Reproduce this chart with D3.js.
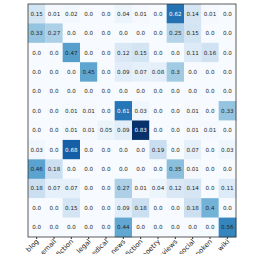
<!DOCTYPE html>
<html>
<head>
<meta charset="utf-8">
<script src="https://cdn.jsdelivr.net/npm/d3@7"></script>
<style>
  body { margin: 0; background: #fff; }
  svg { display: block; }
</style>
</head>
<body>
<svg id="chart" width="254" height="254"></svg>
<script>
// categories (rows = true, cols = predicted)
const labels = ["blog", "email", "fiction", "legal", "medical", "news",
  "nonfiction", "poetry", "reviews", "social", "spoken", "wiki"];

const blog       = [0.15, 0.01, 0.02, 0.0, 0.0, 0.04, 0.01, 0.0, 0.62, 0.14, 0.01, 0.0];
const email      = [0.33, 0.27, 0.0, 0.0, 0.0, 0.0, 0.0, 0.0, 0.25, 0.15, 0.0, 0.0];
const fiction    = [0.0, 0.0, 0.47, 0.0, 0.0, 0.12, 0.15, 0.0, 0.0, 0.11, 0.16, 0.0];
const legal      = [0.0, 0.0, 0.0, 0.45, 0.0, 0.09, 0.07, 0.08, 0.3, 0.0, 0.0, 0.0];
const medical    = [0.0, 0.0, 0.0, 0.0, 0.0, 0.0, 0.0, 0.0, 0.0, 0.0, 0.0, 0.0];
const news       = [0.0, 0.0, 0.01, 0.01, 0.0, 0.61, 0.03, 0.0, 0.0, 0.01, 0.0, 0.33];
const nonfiction = [0.0, 0.0, 0.01, 0.01, 0.05, 0.09, 0.83, 0.0, 0.0, 0.01, 0.01, 0.0];
const poetry     = [0.03, 0.0, 0.68, 0.0, 0.0, 0.0, 0.0, 0.19, 0.0, 0.07, 0.0, 0.03];
const reviews    = [0.46, 0.18, 0.0, 0.0, 0.0, 0.0, 0.0, 0.0, 0.35, 0.01, 0.0, 0.0];
const social     = [0.18, 0.07, 0.07, 0.0, 0.0, 0.27, 0.01, 0.04, 0.12, 0.14, 0.0, 0.11];
const spoken     = [0.0, 0.0, 0.15, 0.0, 0.0, 0.09, 0.18, 0.0, 0.0, 0.18, 0.4, 0.0];
const wiki       = [0.0, 0.0, 0.0, 0.0, 0.0, 0.44, 0.0, 0.0, 0.0, 0.0, 0.0, 0.56];

const matrix = [blog, email, fiction, legal, medical, news,
  nonfiction, poetry, reviews, social, spoken, wiki];

const svg = d3.select("#chart");
const margin = { top: 4, left: 28, right: 18, bottom: 17 };
const width = 236 - margin.left;
const height = 237 - margin.top;

const g = svg.append("g")
  .attr("transform", `translate(${margin.left},${margin.top})`);

const x = d3.scaleBand().domain(labels).range([0, width]);
const y = d3.scaleBand().domain(labels).range([0, height]);

const maxVal = d3.max(matrix.flat());
const color = d3.scaleSequential(d3.interpolateBlues).domain([0, maxVal]);

const cells = matrix.flatMap((row, i) =>
  row.map((v, j) => ({ row: labels[i], col: labels[j], v })));

g.selectAll("rect.cell")
  .data(cells)
  .enter()
  .append("rect")
  .attr("class", "cell")
  .attr("x", d => x(d.col))
  .attr("y", d => y(d.row))
  .attr("width", x.bandwidth() + 0.3)
  .attr("height", y.bandwidth() + 0.3)
  .attr("fill", d => color(d.v));

const fmt = v => (v === 0 ? "0.0" : String(+v.toFixed(2)).replace(/^(\d+)$/, "$1.0"));

g.selectAll("text.val")
  .data(cells)
  .enter()
  .append("text")
  .attr("class", "val")
  .attr("x", d => x(d.col) + x.bandwidth() / 2)
  .attr("y", d => y(d.row) + y.bandwidth() / 2)
  .attr("text-anchor", "middle")
  .attr("dominant-baseline", "central")
  .style("font-family", "DejaVu Sans")
  .style("font-size", "5.6px")
  .attr("fill", d => d.v > 0.58 ? "#ffffff" : "#262626")
  .text(d => fmt(d.v));

// frame
g.append("rect")
  .attr("width", width)
  .attr("height", height)
  .attr("fill", "none")
  .attr("stroke", "#333")
  .attr("stroke-width", 0.8);

// x axis labels, rotated so each ends at its tick
const xAxis = g.append("g")
  .attr("transform", `translate(0,${height})`)
  .call(d3.axisBottom(x).tickSize(2).tickPadding(2));

xAxis.select(".domain").remove();
xAxis.selectAll("line").attr("stroke", "#333");
xAxis.selectAll("text")
  .style("font-family", "DejaVu Sans")
  .style("font-size", "6.8px")
  .attr("fill", "#222")
  .attr("text-anchor", "end")
  .attr("x", 0)
  .attr("y", 0)
  .attr("dy", 0)
  .attr("transform", "translate(2.5,5) rotate(-45)");
</script>
</body>
</html>
